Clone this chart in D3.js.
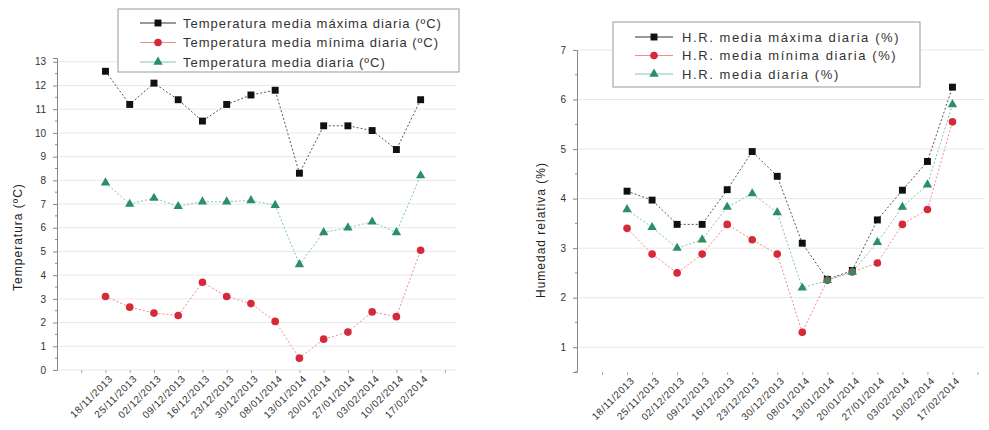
<!DOCTYPE html>
<html>
<head>
<meta charset="utf-8">
<script src="https://cdn.jsdelivr.net/npm/d3@7"></script>
<style>
  body { margin: 0; background: #fff; }
  svg { font-family: Arial, "Liberation Sans", sans-serif; }
</style>
</head>
<body>
<svg id="chart" width="989" height="430"></svg>
<script>
// fechas (eje x, ambos gráficos)
const fechas = ['18/11/2013', '25/11/2013', '02/12/2013', '09/12/2013', '16/12/2013', '23/12/2013', '30/12/2013',
    '08/01/2014', '13/01/2014', '20/01/2014', '27/01/2014', '03/02/2014', '10/02/2014', '17/02/2014'];

// temperatura
const tMax = [12.6, 11.2, 12.1, 11.4, 10.5, 11.2, 11.6, 11.8, 8.3, 10.3, 10.3, 10.1, 9.3, 11.4];
const tMin = [3.1, 2.65, 2.4, 2.3, 3.7, 3.1, 2.8, 2.05, 0.5, 1.3, 1.6, 2.45, 2.25, 5.05];
const tMed = [7.9, 7.0, 7.25, 6.9, 7.1, 7.1, 7.15, 6.95, 4.45, 5.8, 6.0, 6.25, 5.8, 8.2];
const tTicks = d3.range(0, 14);

// humedad relativa
const hrMax = [4.15, 3.97, 3.48, 3.48, 4.18, 4.95, 4.45, 3.1, 2.37, 2.55, 3.57, 4.17, 4.75, 6.25];
const hrMin = [3.4, 2.88, 2.5, 2.88, 3.48, 3.17, 2.88, 1.3, 2.35, 2.52, 2.7, 3.48, 3.78, 5.55];
const hrMed = [3.78, 3.42, 3.0, 3.17, 3.83, 4.1, 3.72, 2.2, 2.35, 2.52, 3.12, 3.83, 4.28, 5.9];
const hrTicks = d3.range(1, 8);

const leftSeries = [
    {name: 'Temperatura media máxima diaria (ºC)', values: tMax, shape: 'square'},
    {name: 'Temperatura media mínima diaria (ºC)', values: tMin, shape: 'circle'},
    {name: 'Temperatura media diaria (ºC)', values: tMed, shape: 'triangle'}
];
const rightSeries = [
    {name: 'H.R. media máxima diaria (%)', values: hrMax, shape: 'square'},
    {name: 'H.R. media mínima diaria (%)', values: hrMin, shape: 'circle'},
    {name: 'H.R. media diaria (%)', values: hrMed, shape: 'triangle'}
];

const styles = {
    square: {fill: '#111', line: '#555', sym: d3.symbolSquare, size: 48},
    circle: {fill: '#d42a3a', line: '#f08a96', sym: d3.symbolCircle, size: 46},
    triangle: {fill: '#2a8f62', line: '#7cc7b0', sym: d3.symbolTriangle, size: 38}
};

const svg = d3.select('#chart');

function drawPanel(o) {
    const g = svg.append('g');
    const x = d3.scaleLinear().domain([0, o.xMax]).range([o.left, o.right]);
    const y = d3.scaleLinear().domain(o.yDomain).range([o.bottom, o.top]);

    // grid
    g.selectAll('.grid').data(o.ticks).enter().append('line')
        .attr('x1', o.left).attr('x2', o.right)
        .attr('y1', d => y(d)).attr('y2', d => y(d))
        .attr('stroke', '#e8e8e8').attr('stroke-width', 1);

    // y axis
    const yAxis = d3.axisLeft(y).tickValues(o.ticks).tickSize(4).tickFormat(d3.format('d'));
    const ya = g.append('g').attr('transform', `translate(${o.left},0)`).call(yAxis);
    ya.select('.domain').attr('stroke', '#888');
    ya.selectAll('.tick line').attr('stroke', '#888');
    ya.selectAll('.tick text').attr('font-size', 10).attr('fill', '#333').attr('dx', -4);
    // minor ticks
    const minor = d3.range(o.ticks[0] - 0.5, o.ticks[o.ticks.length - 1] + 0.5, 1).filter(v => y(v) <= o.bottom && y(v) >= o.top);
    g.selectAll('.minor').data(minor).enter().append('line')
        .attr('x1', o.left - 2).attr('x2', o.left)
        .attr('y1', d => y(d)).attr('y2', d => y(d))
        .attr('stroke', '#888');

    // x ticks + labels
    const xa = g.append('g').attr('transform', `translate(0,${o.bottom})`)
        .call(d3.axisBottom(x).tickValues(d3.range(1, 17)).tickSize(3)
            .tickFormat(d => (d >= 2 && d <= 15) ? fechas[d - 2] : ''));
    xa.select('.domain').remove();
    xa.selectAll('.tick line').attr('stroke', '#aaa');
    xa.selectAll('.tick text')
        .attr('font-size', 10).attr('fill', '#333')
        .attr('letter-spacing', 0.6)
        .attr('text-anchor', 'end')
        .attr('transform', 'translate(5,7) rotate(-45)')
        .attr('dy', '0.35em').attr('y', 0);

    // y title
    g.append('text')
        .attr('transform', `translate(${o.titleX},${o.titleY}) rotate(-90)`)
        .attr('text-anchor', 'middle').attr('font-size', 12).attr('fill', '#222')
        .attr('letter-spacing', 1)
        .text(o.yTitle);

    // series
    o.series.forEach(s => {
        const st = styles[s.shape];
        const pts = s.values.map((v, i) => [x(i + 2), y(v)]);
        g.append('path')
            .attr('d', d3.line()(pts))
            .attr('fill', 'none').attr('stroke', st.line)
            .attr('stroke-width', 1).attr('stroke-dasharray', '2,2');
        g.selectAll(null).data(pts).enter().append('path')
            .attr('d', d3.symbol().type(st.sym).size(st.size))
            .attr('transform', d => `translate(${d[0]},${d[1]})`)
            .attr('fill', st.fill);
    });

    // legend
    const lg = g.append('g');
    lg.append('rect')
        .attr('x', o.lg.x).attr('y', o.lg.y).attr('width', o.lg.w).attr('height', o.lg.h)
        .attr('fill', '#fff').attr('stroke', '#999');
    o.series.forEach((s, i) => {
        const st = styles[s.shape];
        const cy = o.lg.y + o.lg.row0 + i * o.lg.dy;
        lg.append('line')
            .attr('x1', o.lg.x + o.lg.l1).attr('x2', o.lg.x + o.lg.l2)
            .attr('y1', cy).attr('y2', cy)
            .attr('stroke', i === 0 ? '#333' : st.line).attr('stroke-width', 1);
        lg.append('path')
            .attr('d', d3.symbol().type(st.sym).size(st.size))
            .attr('transform', `translate(${o.lg.x + (o.lg.l1 + o.lg.l2) / 2},${cy})`)
            .attr('fill', st.fill);
        lg.append('text')
            .attr('x', o.lg.x + o.lg.tx).attr('y', cy).attr('dy', '0.35em')
            .attr('font-size', o.lg.fs).attr('fill', '#333')
            .attr('letter-spacing', o.lg.ls)
            .text(s.name);
    });
}

drawPanel({
    left: 57, right: 457, top: 58, bottom: 370, xMax: 16.5,
    yDomain: [0, 13.16], ticks: tTicks,
    yTitle: 'Temperatura (ºC)', titleX: 22, titleY: 237,
    series: leftSeries,
    lg: {x: 118, y: 9, w: 341, h: 63, row0: 14, dy: 19.5, l1: 22, l2: 58, tx: 65, fs: 13, ls: 1}
});

drawPanel({
    left: 577, right: 985, top: 50, bottom: 372, xMax: 16.3,
    yDomain: [0.5, 7], ticks: hrTicks,
    yTitle: 'Humedad relativa (%)', titleX: 545, titleY: 230,
    series: rightSeries,
    lg: {x: 613, y: 22, w: 307, h: 65, row0: 15, dy: 18.5, l1: 22, l2: 60, tx: 69, fs: 13, ls: 1.6}
});
</script>
</body>
</html>
